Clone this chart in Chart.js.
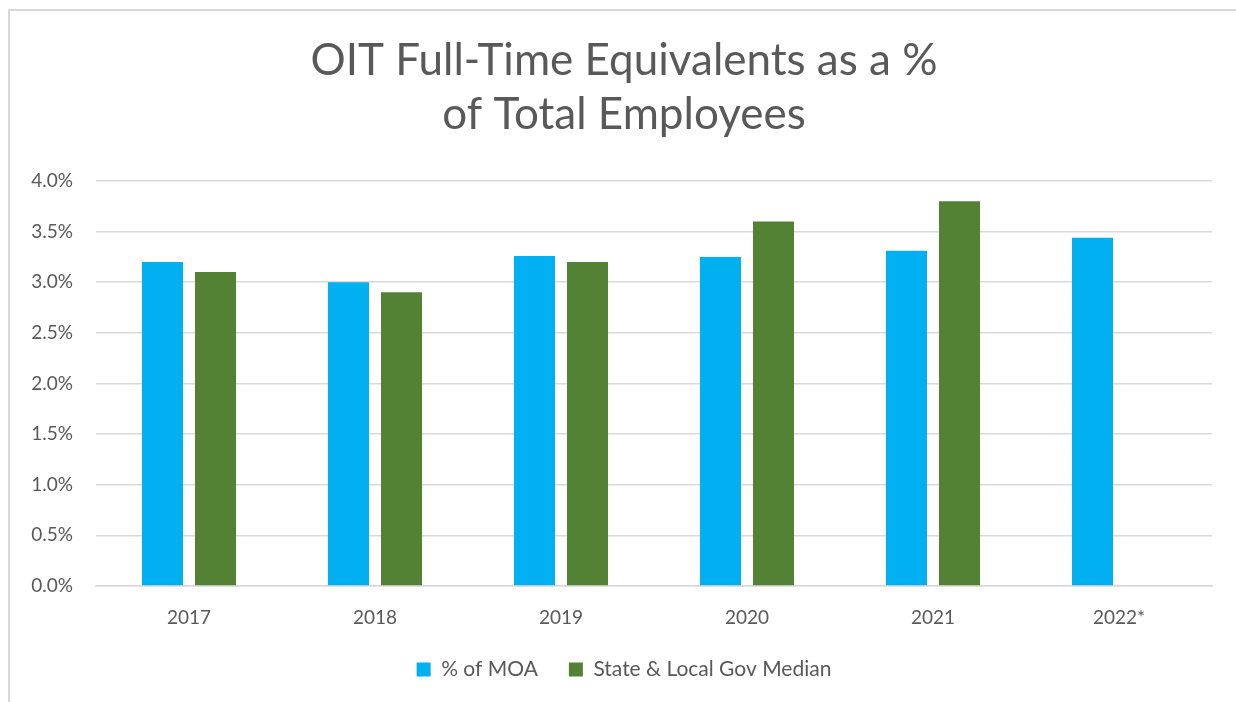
<!DOCTYPE html>
<html>
<head>
<meta charset="utf-8">
<script src="https://cdn.jsdelivr.net/npm/chart.js@4.4.0/dist/chart.umd.min.js"></script>
<style>
    body { margin: 0; background: #fff; overflow: hidden; }
    #frame {
        position: absolute; left: 8px; top: 9px; width: 1400px; height: 900px;
        border-left: 2px solid #d9d9d9; border-top: 2px solid #d9d9d9;
    }
    #chartBox { position: absolute; left: 0; top: 0; width: 1236px; height: 702px; }
</style>
</head>
<body>
<div id="frame"></div>
<div id="chartBox"><canvas id="fteChart" width="1236" height="702"></canvas></div>
<script>
// Chart data
const years = ['2017', '2018', '2019', '2020', '2021', '2022*'];
const moaPct = [3.20, 3.00, 3.26, 3.25, 3.31, 3.44];
const govMedianPct = [3.10, 2.90, 3.20, 3.60, 3.80, null];
const yTicks = [0, 0.5, 1.0, 1.5, 2.0, 2.5, 3.0, 3.5, 4.0];

const textColor = '#595959';
const gridColor = '#d9d9d9';
const fontFamily = 'Lato, "Open Sans", sans-serif';

const ctx = document.getElementById('fteChart').getContext('2d');

const fteChart = new Chart(ctx, {
    type: 'bar',
    data: {
        labels: years,
        datasets: [{
            label: '% of MOA',
            data: moaPct,
            backgroundColor: '#00b0f0'
        }, {
            label: 'State & Local Gov Median',
            data: govMedianPct,
            backgroundColor: '#548235'
        }]
    },
    options: {
        responsive: false,
        animation: false,
        categoryPercentage: 0.57,
        barPercentage: 0.774,
        layout: { padding: { left: 12, right: 0, top: 0, bottom: 12 } },
        plugins: {
            title: {
                display: true,
                text: ['OIT Full-Time Equivalents as a %', 'of Total Employees'],
                color: textColor,
                font: { family: fontFamily, size: 44, weight: 'normal', lineHeight: 1.227 },
                padding: { top: 34, bottom: 39 }
            },
            legend: {
                position: 'bottom',
                labels: {
                    color: textColor,
                    font: { family: fontFamily, size: 21 },
                    boxWidth: 14,
                    boxHeight: 14,
                    padding: 31
                }
            },
            tooltip: { enabled: false }
        },
        scales: {
            x: {
                afterFit: scale => { scale.height = 42; },
                grid: { display: false },
                border: { color: gridColor, width: 1.5 },
                ticks: { color: textColor, font: { family: fontFamily, size: 19 }, padding: 12 }
            },
            y: {
                min: 0,
                max: 4,
                afterBuildTicks: scale => { scale.ticks = yTicks.map(v => ({ value: v })); },
                afterFit: scale => { scale.width = 84; },
                grid: { color: gridColor, lineWidth: 1.5, drawTicks: false },
                border: { display: false },
                ticks: {
                    color: textColor,
                    font: { family: fontFamily, size: 19 },
                    padding: 23,
                    callback: v => v.toFixed(1) + '%'
                }
            },
            // empty right-hand spacer so the plot stops short of the edge
            spacer: {
                position: 'right',
                afterFit: scale => { scale.width = 24; },
                grid: { display: false },
                border: { display: false },
                ticks: { display: false }
            }
        }
    }
});
</script>
</body>
</html>
